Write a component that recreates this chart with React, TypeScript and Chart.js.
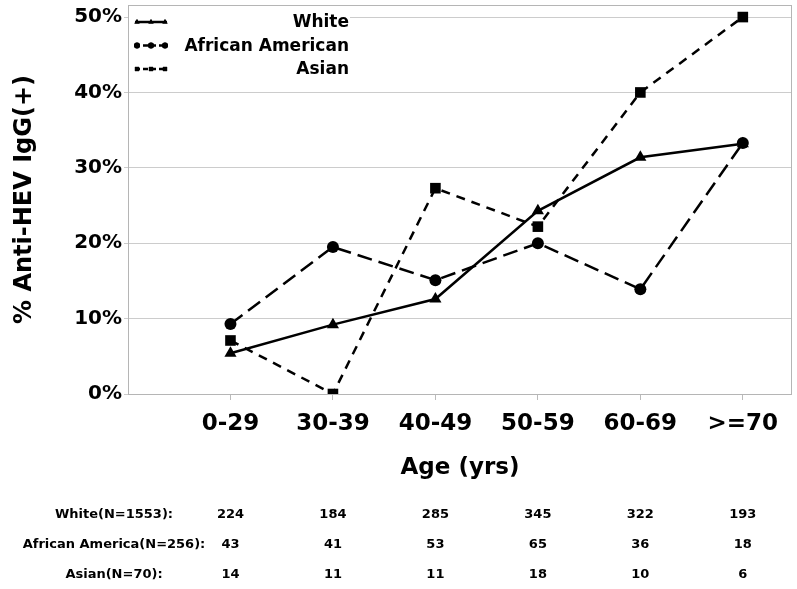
import React, { useEffect, useRef } from 'react';
import { Chart, registerables } from 'chart.js';
import { drawPoint } from 'chart.js/helpers';

Chart.register(...registerables);

const ageGroups = ['0-29', '30-39', '40-49', '50-59', '60-69', '>=70'];
const whitePct = [5.4, 9.2, 12.6, 24.3, 31.4, 33.2];
const africanAmericanPct = [9.3, 19.5, 15.1, 20.0, 13.9, 33.3];
const asianPct = [7.1, 0, 27.3, 22.2, 40.0, 50.0];
const legendLabels = ['White', 'African American', 'Asian'];
const tableLabels = ['White(N=1553):', 'African America(N=256):', 'Asian(N=70):'];
const whiteN = [224, 184, 285, 345, 322, 193];
const africanAmericanN = [43, 41, 53, 65, 36, 18];
const asianN = [14, 11, 11, 18, 10, 6];
const yAxisTitle = '% Anti-HEV IgG(+)';
const xAxisTitle = 'Age (yrs)';

const FONT = '"DejaVu Sans", sans-serif';

const toPoints = (arr: number[]) => arr.map((v, i) => ({ x: i + 1, y: v }));

const extrasPlugin = {
  id: 'extras',
  beforeDatasetsDraw(chart: any) {
    const { ctx, chartArea } = chart;
    const { left, top, right, bottom } = chartArea;
    ctx.save();
    ctx.strokeStyle = '#b5b5b5';
    ctx.lineWidth = 1;
    ctx.strokeRect(left + 0.5, top + 0.5, right - left - 1, bottom - top);
    // legend background
    ctx.fillStyle = '#ffffff';
    ctx.fillRect(left + 1, top + 4, 221, 72);
    ctx.restore();
  },
  afterDatasetsDraw(chart: any) {
    const { ctx, chartArea } = chart;
    const { left, top } = chartArea;
    const ds = chart.data.datasets;
    ctx.save();
    for (let i = 0; i < ds.length; i++) {
      const y = top + 17 + i * 23.5;
      ctx.strokeStyle = '#000';
      ctx.lineWidth = 2.5;
      ctx.setLineDash(i === 0 ? [] : [5, 3]);
      ctx.beginPath();
      ctx.moveTo(left + 7, y);
      ctx.lineTo(left + 39, y);
      ctx.stroke();
      ctx.setLineDash([]);
      ctx.fillStyle = '#000';
      [left + 9, left + 23, left + 37].forEach((x) => {
        drawPoint(ctx, { pointStyle: ds[i].pointStyle, radius: 3, rotation: 0, borderWidth: 0 } as any, x, y);
        ctx.fill();
      });
      ctx.fillStyle = '#000';
      ctx.font = `bold 17px ${FONT}`;
      ctx.textAlign = 'right';
      ctx.textBaseline = 'middle';
      ctx.fillText(legendLabels[i], left + 221, y + 1);
    }
    ctx.restore();
  },
  afterDraw(chart: any) {
    const { ctx } = chart;
    const xScale = chart.scales.x;
    const rows = [whiteN, africanAmericanN, asianN];
    const rowY = [515, 545, 575];
    ctx.save();
    ctx.fillStyle = '#000';
    ctx.font = `bold 13px ${FONT}`;
    ctx.textAlign = 'center';
    ctx.textBaseline = 'middle';
    rows.forEach((row, r) => {
      ctx.fillText(tableLabels[r], 114, rowY[r]);
      row.forEach((n, i) => {
        ctx.fillText(String(n), xScale.getPixelForValue(i + 1), rowY[r]);
      });
    });
    ctx.restore();
  },
};

export default function App() {
  const canvasRef = useRef<HTMLCanvasElement | null>(null);

  useEffect(() => {
    if (!canvasRef.current) return;
    const chart = new Chart(canvasRef.current, {
      type: 'line',
      data: {
        datasets: [
          {
            label: legendLabels[0],
            data: toPoints(whitePct),
            borderColor: '#000',
            backgroundColor: '#000',
            borderWidth: 2.5,
            pointStyle: 'triangle',
            pointRadius: 7,
            pointBorderWidth: 0,
            pointBackgroundColor: '#000',
          },
          {
            label: legendLabels[1],
            data: toPoints(africanAmericanPct),
            borderColor: '#000',
            backgroundColor: '#000',
            borderWidth: 2.5,
            borderDash: [15, 7],
            pointStyle: 'circle',
            pointRadius: 6,
            pointBorderWidth: 0,
            pointBackgroundColor: '#000',
          },
          {
            label: legendLabels[2],
            data: toPoints(asianPct),
            borderColor: '#000',
            backgroundColor: '#000',
            borderWidth: 2.5,
            borderDash: [9, 7],
            pointStyle: 'rect',
            pointRadius: 7.5,
            pointBorderWidth: 0,
            pointBackgroundColor: '#000',
          },
        ] as any,
      },
      options: {
        animation: false,
        responsive: false,
        maintainAspectRatio: false,
        layout: { autoPadding: false, padding: { top: 5, right: 5, bottom: 0, left: 0 } },
        plugins: { legend: { display: false }, tooltip: { enabled: false } },
        elements: { line: { tension: 0 } },
        scales: {
          x: {
            type: 'linear',
            min: 0,
            max: 6.48,
            afterBuildTicks: (scale: any) => {
              scale.ticks = ageGroups.map((_, i) => ({ value: i + 1 }));
            },
            afterFit: (scale: any) => {
              scale.height = 195;
              scale.paddingLeft = 0;
              scale.paddingRight = 0;
            },
            border: { display: false },
            grid: { drawOnChartArea: false, drawTicks: true, tickLength: 6, color: '#bbbbbb' },
            ticks: {
              autoSkip: false,
              maxRotation: 0,
              padding: 10,
              color: '#000',
              font: { family: FONT, size: 23, weight: 'bold' },
              callback: (v: any) => ageGroups[Math.round(Number(v)) - 1] ?? '',
            },
            title: {
              display: true,
              text: xAxisTitle,
              color: '#000',
              font: { family: FONT, size: 23, weight: 'bold' },
              padding: { top: 0, bottom: 107 },
            },
          },
          y: {
            type: 'linear',
            min: 0,
            max: 51.6,
            afterFit: (scale: any) => {
              scale.width = 128;
              scale.paddingTop = 0;
              scale.paddingBottom = 0;
            },
            border: { display: false },
            grid: { color: '#cccccc', tickLength: 4, drawTicks: true },
            ticks: {
              stepSize: 10,
              includeBounds: false,
              padding: 2,
              color: '#000',
              font: { family: FONT, size: 20, weight: 'bold' },
              callback: (v: any) => `${v}%`,
            },
            title: {
              display: true,
              text: yAxisTitle,
              color: '#000',
              font: { family: FONT, size: 24, weight: 'bold' },
              padding: { top: 10, bottom: 0 },
            },
          },
        } as any,
      },
      plugins: [extrasPlugin],
    });
    return () => chart.destroy();
  }, []);

  return (
    <div style={{ position: 'absolute', left: 0, top: 0, width: 797, height: 589, background: '#fff' }}>
      <canvas ref={canvasRef} width={797} height={589} style={{ display: 'block' }} />
    </div>
  );
}
